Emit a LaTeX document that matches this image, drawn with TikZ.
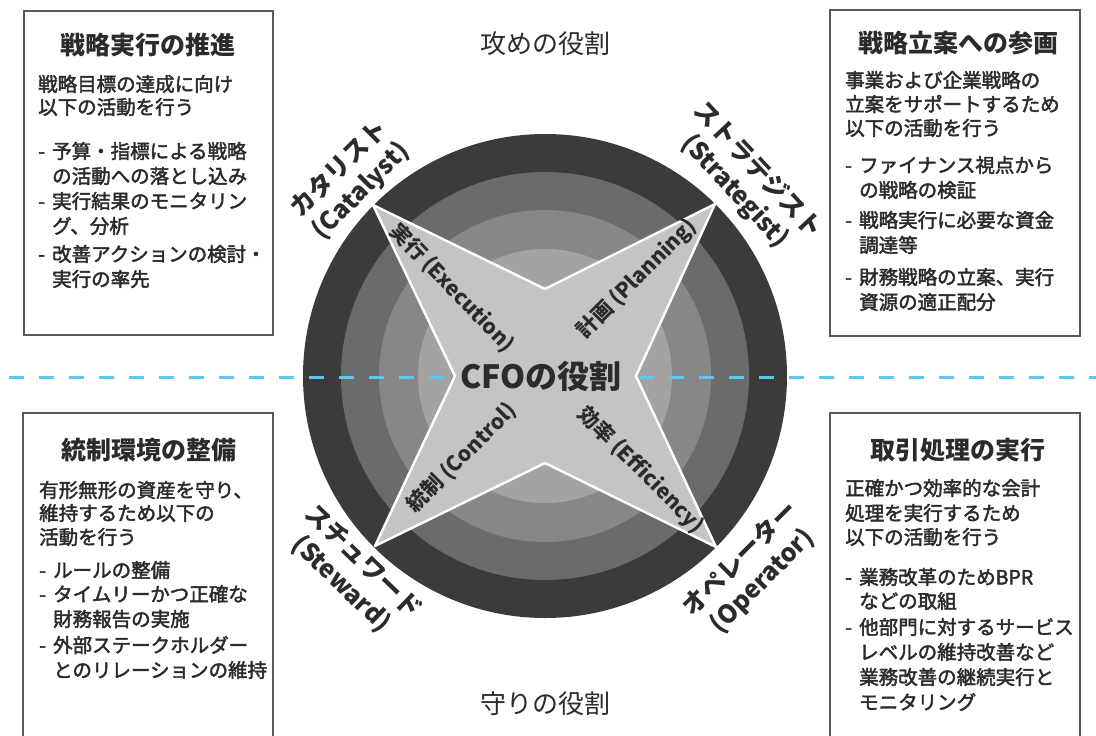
\documentclass[tikz,border=0pt]{standalone}
\usepackage{fontspec}
\setmainfont{Noto Sans CJK JP}
\newfontfamily\medfont{Noto Sans CJK JP}[FakeBold=2.2]
\definecolor{txt}{HTML}{2B2B2B}
\definecolor{boxgray}{HTML}{5A5A5A}
\definecolor{ringA}{HTML}{3B3B3B}
\definecolor{ringB}{HTML}{6B6B6B}
\definecolor{ringC}{HTML}{878787}
\definecolor{ringD}{HTML}{A3A3A3}
\definecolor{ringE}{HTML}{B6B6B6}
\definecolor{starfill}{HTML}{C4C4C4}
\definecolor{dashc}{HTML}{5CC8F0}
\newcommand{\itm}{\makebox[14pt][l]{-}}
\newcommand{\ind}{\hspace*{14pt}}
\begin{document}
\begin{tikzpicture}[x=1pt,y=-1pt,
  box/.style={draw=boxgray,line width=1.8pt,fill=white,inner sep=0,anchor=north west},
  ttl/.style={font=\bfseries\fontsize{25}{28}\selectfont,text=txt,inner sep=0},
  body/.style={font=\medfont\fontsize{19.5}{24}\selectfont,text=txt,anchor=west,inner sep=0},
  arm/.style={font=\bfseries\fontsize{21}{24}\selectfont,text=txt,inner sep=0},
  outer/.style={font=\bfseries\fontsize{25}{31}\selectfont,text=txt,align=center,inner sep=0},
  role/.style={font=\fontsize{26}{30}\selectfont,text=txt,inner sep=0},
]
\useasboundingbox (0,0) rectangle (1096,736);
\fill[white] (0,0) rectangle (1096,736);

% boxes
\node[box,minimum width=249pt,minimum height=324pt] (boxTL) at (23,10) {};
\node[box,minimum width=250pt,minimum height=326pt] (boxTR) at (829,9) {};
\node[box,minimum width=250pt,minimum height=340pt] (boxBL) at (22,412) {};
\node[box,minimum width=250pt,minimum height=340pt] (boxBR) at (829,412) {};

% rings
\coordinate (c) at (545,376);
\fill[ringA] (c) circle[radius=242];
\fill[ringB] (c) circle[radius=204];
\fill[ringC] (c) circle[radius=166];
\fill[ringD] (c) circle[radius=127];
\fill[ringE] (c) circle[radius=90];

% dashed divider
\coordinate (dl) at (9,377);
\coordinate (dr) at (1096,377);
\draw[dashc,line width=3pt,dash pattern=on 15pt off 15pt] (dl) -- (dr);

% star
\coordinate (t1) at (373,205);
\coordinate (t2) at (715,204);
\coordinate (t3) at (716,547);
\coordinate (t4) at (375,546);
\coordinate (v1) at (545,289);
\coordinate (v2) at (636,376);
\coordinate (v3) at (545,463);
\coordinate (v4) at (455,376);
\filldraw[fill=starfill,draw=white,line width=2.4pt,line join=round]
  (t1) -- (v1) -- (t2) -- (v2) -- (t3) -- (v3) -- (t4) -- (v4) -- cycle;

% arm labels
\node[arm,rotate=-46] (exe) at (452,288) {実行 (Execution)};
\node[arm,rotate=45] (pla) at (637,279) {計画 (Planning)};
\node[arm,rotate=45] (con) at (462,458) {統制 (Control)};
\node[arm,rotate=-45] (eff) at (641,470) {効率 (Efficiency)};

% centre
\node[font=\bfseries\fontsize{32}{36}\selectfont,text=txt,inner sep=0] (cfo) at (541,376) {CFOの役割};

% outer labels
\node[outer,rotate=45] (cat) at (350,180) {カタリスト\\(Catalyst)};
\node[outer,rotate=-47] (str) at (746,181) {ストラテジスト\\(Strategist)};
\node[outer,rotate=-44] (ste) at (352,573) {スチュワード\\(Steward)};
\node[outer,rotate=45] (ope) at (751,570) {オペレーター\\(Operator)};

% role texts
\node[role] (atk) at (545,44) {攻めの役割};
\node[role] (dfn) at (545,704) {守りの役割};

% box titles
\node[ttl] (tTL) at (147.5,45) {戦略実行の推進};
\node[ttl] (tTR) at (958,43) {戦略立案への参画};
\node[ttl] (tBL) at (149,450) {統制環境の整備};
\node[ttl] (tBR) at (958,450) {取引処理の実行};

% box bodies
\foreach \yy/\tx [count=\i] in {84/戦略目標の達成に向け, 107/以下の活動を行う,
  151/{\itm 予算・指標による戦略}, 176/{\ind の活動への落とし込み},
  201/{\itm 実行結果のモニタリン}, 226/{\ind グ、分析},
  254/{\itm 改善アクションの検討・}, 279/{\ind 実行の率先}}
  \node[body] (bTL\i) at (38,\yy) {\tx};

\foreach \yy/\tx [count=\i] in {80/事業および企業戦略の, 104/立案をサポートするため, 128/以下の活動を行う,
  165/{\itm ファイナンス視点から}, 190/{\ind の戦略の検証},
  220/{\itm 戦略実行に必要な資金}, 245/{\ind 調達等},
  277/{\itm 財務戦略の立案、実行}, 302/{\ind 資源の適正配分}}
  \node[body] (bTR\i) at (845,\yy) {\tx};

\foreach \yy/\tx [count=\i] in {490/有形無形の資産を守り、, 513/維持するため以下の, 537/活動を行う,
  570/{\itm ルールの整備},
  594/{\itm タイムリーかつ正確な}, 619/{\ind 財務報告の実施},
  645/{\itm 外部ステークホルダー}, 670/{\ind とのリレーションの維持}}
  \node[body] (bBL\i) at (39,\yy) {\tx};

\foreach \yy/\tx [count=\i] in {488/正確かつ効率的な会計, 513/処理を実行するため, 537/以下の活動を行う,
  577/{\itm 業務改革のためBPR}, 601/{\ind などの取組},
  627/{\itm 他部門に対するサービス}, 652/{\ind レベルの維持改善など},
  677/{\ind 業務改善の継続実行と}, 702/{\ind モニタリング}}
  \node[body] (bBR\i) at (845,\yy) {\tx};
\end{tikzpicture}
\end{document}
